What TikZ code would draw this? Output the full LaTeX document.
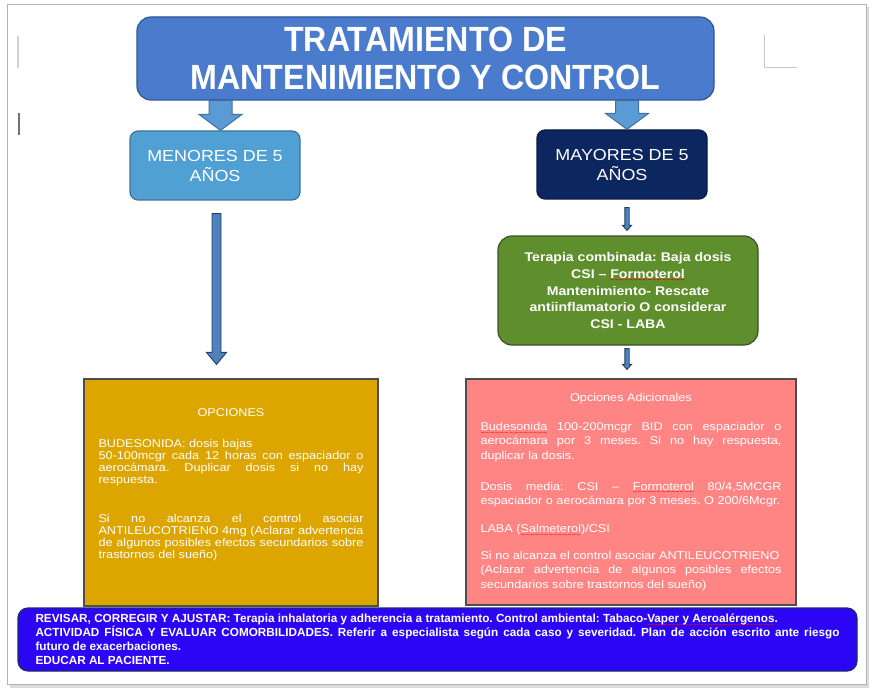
\documentclass[tikz,border=0pt]{standalone}
\usepackage{fontspec}
\setmainfont{Liberation Sans}
\newfontfamily\widefont[FakeStretch=1.12]{Liberation Sans}
\newfontfamily\narrowfont[FakeStretch=0.92]{Liberation Sans}
\usetikzlibrary{calc}

\definecolor{titleblue}{HTML}{4A7BCC}
\definecolor{titleedge}{HTML}{2F5597}
\definecolor{arrowblue}{HTML}{5B9BD5}
\definecolor{arrowedge}{HTML}{41719C}
\definecolor{skyblue}{HTML}{50A0D4}
\definecolor{navyblue}{HTML}{0C2660}
\definecolor{steelblue}{HTML}{4F81BD}
\definecolor{steeledge}{HTML}{243F66}
\definecolor{olivegreen}{HTML}{5E8F2C}
\definecolor{olivedge}{HTML}{3E4F2E}
\definecolor{goldbox}{HTML}{DDA500}
\definecolor{pinkbox}{HTML}{FF8585}
\definecolor{boxedge}{HTML}{4D4D4D}
\definecolor{violetblue}{HTML}{2D05F5}
\definecolor{violetedge}{HTML}{1C2C6B}

\newcommand{\normalspacing}{\spaceskip=0pt\xspaceskip=0pt\frenchspacing}
\newcommand{\redwave}[1]{\setbox0\hbox{#1}\rlap{\raisebox{-4.5pt}[0pt][0pt]{\color{red}\hbox to\wd0{\xleaders\hbox{\fontsize{7}{7}\selectfont\char`\~}\hfill}}}\box0\relax}
\newcommand{\jline}[1]{\makebox[\linewidth][s]{\normalspacing#1}}
\newcommand{\midline}[1]{\makebox[\linewidth][c]{#1}}

% [style]{from}{to}{shaft half width}{head half width}{head length}
\newcommand{\blockdown}[6][]{%
  \draw[#1] let \p1=(#2), \p2=(#3) in
    (\x1-#4pt,\y1) -- (\x1+#4pt,\y1) -- (\x1+#4pt,\y2+#6pt) -- (\x1+#5pt,\y2+#6pt)
    -- (\x1,\y2) -- (\x1-#5pt,\y2+#6pt) -- (\x1-#4pt,\y2+#6pt) -- cycle;}

\tikzset{
  box/.style={draw,line width=1.2pt,inner sep=0pt,align=center,text=white,
    execute at begin node=\normalspacing},
  agebox/.style={box,rounded corners=8pt,minimum width=170pt,minimum height=69pt,
    font=\widefont\fontsize{16}{20}\selectfont},
  optbox/.style={box,draw=boxedge,align=left,font=\widefont\fontsize{11.3}{12}\selectfont},
  fatarrow/.style={fill=arrowblue,draw=arrowedge,line width=1pt},
  thinarrow/.style={fill=steelblue,draw=steeledge,line width=0.9pt}
}

\begin{document}
\begin{tikzpicture}[x=1pt,y=-1pt,line join=miter]
  \useasboundingbox (0,0) rectangle (875,695);
  \fill[white] (0,0) rectangle (875,695);
  \fill[black!14] (10,7) rectangle (869,688);
  \filldraw[fill=white,draw=black!30,line width=0.8pt] (7,4) rectangle (866,684);
  \draw[black!18,line width=1.2pt] (18,36) -- (18,68);
  \draw[black!55,line width=1.5pt] (19,113) -- (19,135);
  \draw[black!22,line width=1pt] (764,35) -- (764,68) -- (797,68);

  \node[box,fill=titleblue,draw=titleedge,rounded corners=14pt,minimum width=577pt,
    minimum height=83pt,font=\narrowfont\bfseries\fontsize{35}{38}\selectfont]
    (title) at (425.5,58.5) {TRATAMIENTO DE\\MANTENIMIENTO Y CONTROL};

  \node[agebox,fill=skyblue,draw=arrowedge] (menores) at (215,165.5) {MENORES DE 5\\AÑOS};
  \node[agebox,fill=navyblue,draw=navyblue!70!black] (mayores) at (622,164.5) {MAYORES DE 5\\AÑOS};

  \node[box,fill=olivegreen,draw=olivedge,rounded corners=14pt,minimum width=260pt,
    minimum height=109pt,font=\widefont\bfseries\fontsize{12.6}{16.7}\selectfont]
    (combinada) at (628,290.5)
    {Terapia combinada: Baja dosis\\CSI – \redwave{Formoterol}\\Mantenimiento- Rescate\\
     antiinflamatorio O considerar\\CSI - LABA};

  \node[optbox,fill=goldbox,minimum width=294pt,minimum height=227pt,text width=265pt]
    (opciones) at (231,492.5)
    {\midline{OPCIONES}\\[19pt]
     BUDESONIDA: dosis bajas\\
     \jline{50-100mcgr cada 12 horas con espaciador o}\\
     \jline{aerocámara. Duplicar dosis si no hay}\\
     respuesta.\\[27pt]
     \jline{Si no alcanza el control asociar}\\
     \jline{ANTILEUCOTRIENO 4mg (Aclarar advertencia}\\
     \jline{de algunos posibles efectos secundarios sobre}\\
     trastornos del sueño)\\[5pt]\mbox{}};

  \node[optbox,fill=pinkbox,minimum width=330pt,minimum height=226pt,text width=301pt,
    font=\widefont\fontsize{11.3}{14.3}\selectfont]
    (adicionales) at (631,492)
    {\midline{Opciones Adicionales}\\[14.7pt]
     \jline{\redwave{Budesonida} 100-200mcgr BID con espaciador o}\\
     \jline{aerocámara por 3 meses. Si no hay respuesta,}\\
     duplicar la dosis.\\[16.7pt]
     \jline{Dosis media: CSI – \redwave{Formoterol} 80/4,5MCGR}\\
     espaciador o aerocámara por 3 meses. O 200/6Mcgr.\\[13.7pt]
     LABA (\redwave{Salmeterol})/CSI\\[12.7pt]
     Si no alcanza el control asociar ANTILEUCOTRIENO\\
     \jline{(Aclarar advertencia de algunos posibles efectos}\\
     secundarios sobre trastornos del sueño)};

  \node[box,fill=violetblue,draw=violetedge,rounded corners=10pt,minimum width=839pt,
    minimum height=63pt,text width=804pt,align=left,
    font=\bfseries\fontsize{11.75}{14.1}\selectfont]
    (revisar) at (437.5,639.5)
    {REVISAR, CORREGIR Y AJUSTAR: Terapia inhalatoria y adherencia a tratamiento. Control ambiental: Tabaco-\redwave{Vaper y Aeroalérgenos}.\\
     \jline{ACTIVIDAD FÍSICA Y EVALUAR COMORBILIDADES. Referir a especialista según cada caso y severidad. Plan de acción escrito ante riesgo}\\
     futuro de exacerbaciones.\\
     EDUCAR AL PACIENTE.};

  \blockdown[fatarrow]{$(menores.north |- title.south)+(5.5,0)$}{menores.north}{11.5}{21.5}{16}
  \blockdown[fatarrow]{$(mayores.north |- title.south)+(5,0)$}{mayores.north}{11.5}{21.5}{16}
  \blockdown[thinarrow]{$(menores.south)+(1.5,13)$}{$(opciones.north)+(0,-14)$}{4.5}{10}{12}
  \blockdown[thinarrow]{$(mayores.south)+(5,8)$}{$(combinada.north)+(0,-5)$}{2.2}{4.5}{5}
  \blockdown[thinarrow]{$(combinada.south)+(-1,3)$}{$(adicionales.north)+(0,-9)$}{2.2}{4.5}{5}
\end{tikzpicture}
\end{document}
